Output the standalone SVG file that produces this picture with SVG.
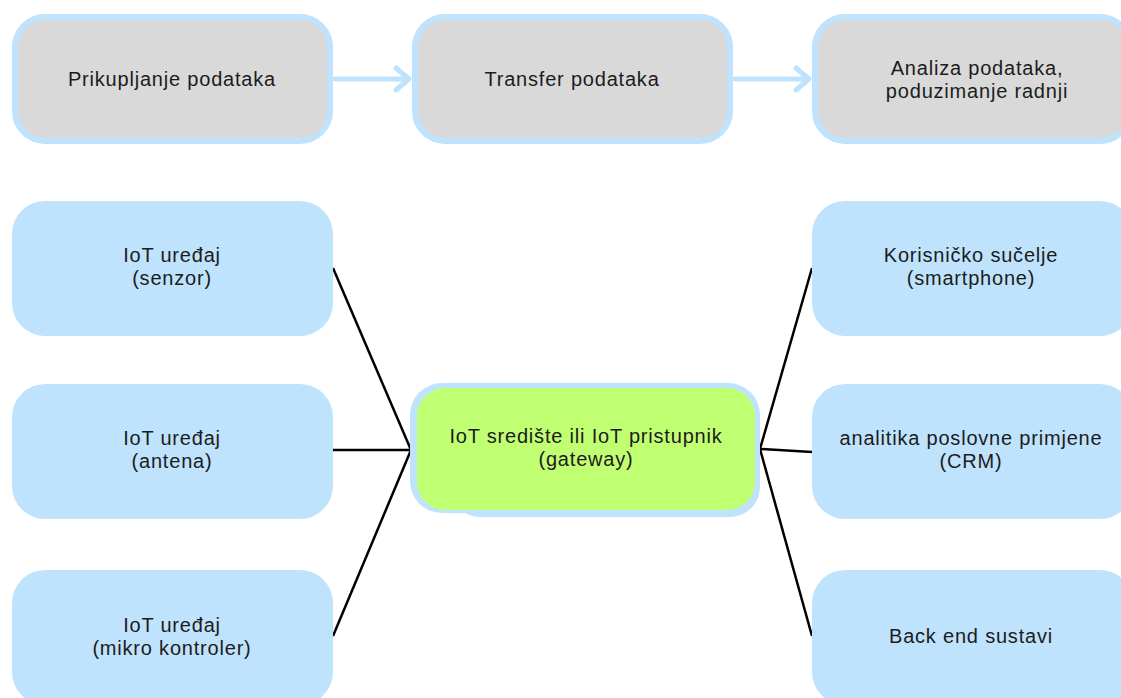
<svg xmlns="http://www.w3.org/2000/svg" width="1121" height="698" viewBox="0 0 1121 698">
<style>
.t{font-family:"Liberation Sans",Arial,sans-serif;font-size:20px;letter-spacing:0.8px;fill:#1c1c1c;text-anchor:middle}
.stage{fill:#d9d9d9;stroke:#bfe3fd;stroke-width:6}
.leaf{fill:#bfe3fd}
.flow{stroke:#bfe3fd;stroke-width:5;fill:none;stroke-linecap:round;stroke-linejoin:round}
.link{stroke:#000;stroke-width:2.5;fill:none}
</style>
<rect width="1121" height="698" fill="#fff"/>
<g id="stage1"><rect class="stage" x="15" y="17" width="315" height="124" rx="30"/><text class="t" x="172" y="86">Prikupljanje podataka</text></g>
<g id="stage2"><rect class="stage" x="415" y="17" width="315" height="124" rx="30"/><text class="t" x="572" y="86">Transfer podataka</text></g>
<g id="stage3"><rect class="stage" x="815" y="17" width="315" height="124" rx="30"/><text class="t" x="977" y="75">Analiza podataka,</text><text class="t" x="977" y="98">poduzimanje radnji</text></g>
<g id="flows">
<path class="flow" d="M335 79 H408 M396 68 L409 79 L396 90"/>
<path class="flow" d="M735 79 H808 M796 68 L809 79 L796 90"/>
</g>
<g id="connectors">
<line class="link" x1="333" y1="268" x2="411" y2="450"/>
<line class="link" x1="333" y1="450" x2="411" y2="450"/>
<line class="link" x1="333" y1="636" x2="411" y2="450"/>
<line class="link" x1="812" y1="268" x2="760" y2="449"/>
<line class="link" x1="812" y1="452" x2="760" y2="449"/>
<line class="link" x1="812" y1="636" x2="760" y2="449"/>
</g>
<g id="dev1"><rect class="leaf" x="12" y="201" width="321" height="135" rx="33"/><text class="t" x="172" y="262">IoT uređaj</text><text class="t" x="172" y="285">(senzor)</text></g>
<g id="dev2"><rect class="leaf" x="12" y="384" width="321" height="135" rx="33"/><text class="t" x="172" y="445">IoT uređaj</text><text class="t" x="172" y="468">(antena)</text></g>
<g id="dev3"><rect class="leaf" x="12" y="570" width="321" height="135" rx="33"/><text class="t" x="172" y="632">IoT uređaj</text><text class="t" x="172" y="655">(mikro kontroler)</text></g>
<g id="app1"><rect class="leaf" x="812" y="201" width="321" height="135" rx="33"/><text class="t" x="971" y="262">Korisničko sučelje</text><text class="t" x="971" y="285">(smartphone)</text></g>
<g id="app2"><rect class="leaf" x="812" y="384" width="321" height="135" rx="33"/><text class="t" x="971" y="445">analitika poslovne primjene</text><text class="t" x="971" y="468">(CRM)</text></g>
<g id="app3"><rect class="leaf" x="812" y="570" width="321" height="135" rx="33"/><text class="t" x="971" y="643">Back end sustavi</text></g>
<g id="gateway">
<rect fill="#bfe3fd" x="450" y="420" width="310" height="97" rx="30"/>
<rect fill="#bfe3fd" x="410" y="383" width="350" height="130" rx="32"/>
<rect fill="#c1ff72" x="417" y="388" width="338" height="122" rx="28"/>
<text class="t" x="586" y="443">IoT središte ili IoT pristupnik</text><text class="t" x="586" y="466">(gateway)</text>
</g>
</svg>
